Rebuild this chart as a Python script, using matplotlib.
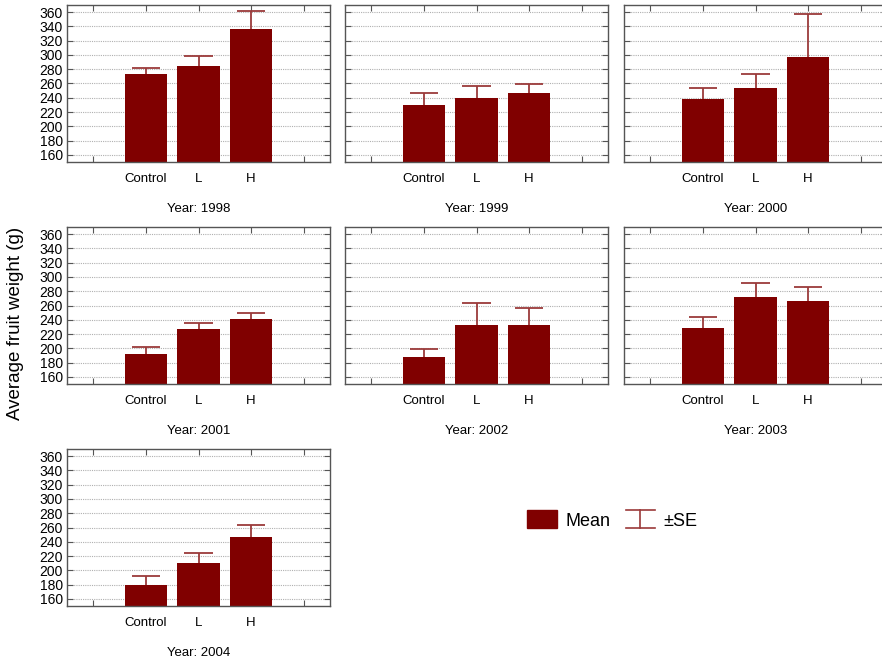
import matplotlib
matplotlib.use("Agg")
from matplotlib import pyplot as plt
from matplotlib.patches import Patch
from matplotlib.lines import Line2D
from matplotlib.legend_handler import HandlerBase

plt.rcParams["font.family"] = ["Liberation Sans", "DejaVu Sans"]

years = [1998, 1999, 2000, 2001, 2002, 2003, 2004]
groups = ["Control", "L", "H"]
mean_control = [273, 230, 238, 192, 188, 228, 179]
mean_l = [285, 239, 254, 226.5, 233, 272, 210.5]
mean_h = [337, 247, 297, 241, 232, 267, 246]
se_control = [8.5, 17, 15, 10, 11, 16, 13]
se_l = [14, 17, 20, 9.5, 30, 19, 13.5]
se_h = [24, 12, 60, 8, 24, 19, 18]

bar_color = "#800000"
err_color = "#9b3a3a"

W, H = 882, 660
fig = plt.figure(figsize=(W / 100, H / 100), dpi=100)

# panel positions in pixels (left, top)
col_left = [67, 345, 624]
row_top = [5, 227, 449]
pw, ph = 263, 157


def px_axes(left, top):
    return fig.add_axes([left / W, 1 - (top + ph) / H, pw / W, ph / H])


for i, year in enumerate(years):
    r, c = divmod(i, 3)
    ax = px_axes(col_left[c], row_top[r])
    means = [mean_control[i], mean_l[i], mean_h[i]]
    ses = [se_control[i], se_l[i], se_h[i]]
    xs = [2, 3, 4]
    tops = [m + s for m, s in zip(means, ses)]
    ax.bar(xs, means, width=0.8, color=bar_color, zorder=2)
    # upper half of the SE whisker only
    ax.vlines(xs, means, tops, color=err_color, linewidth=1.3, zorder=3)
    ax.hlines(tops, [x - 0.27 for x in xs], [x + 0.27 for x in xs],
              color=err_color, linewidth=1.3, zorder=3)
    ax.set_xlim(0.5, 5.5)
    ax.set_ylim(150, 370)
    ax.set_yticks(range(160, 361, 20))
    ax.set_xticks([1, 2, 3, 4, 5])
    ax.set_xticklabels([""] + groups + [""])
    ax.grid(axis="y", linestyle=(0, (1, 1)), color="#b0b0b0", linewidth=0.8, zorder=0)
    ax.tick_params(direction="in", length=4, top=True, right=True, labelsize=10,
                   color="#555555", pad=3)
    ax.tick_params(axis="x", labelsize=9.5, pad=8)
    if c != 0:
        ax.set_yticklabels([])
    for s in ax.spines.values():
        s.set_color("#555555")
        s.set_linewidth(1.0)
    ax.set_xlabel(f"Year: {year}", fontsize=9.5, labelpad=13)

fig.text(16 / W, 1 - 323 / H, "Average fruit weight (g)", rotation=90,
         ha="center", va="center", fontsize=13.5)


class HandlerSE(HandlerBase):
    def create_artists(self, legend, orig_handle, xdescent, ydescent,
                       width, height, fontsize, trans):
        x0, x1 = -xdescent, -xdescent + width
        xm = (x0 + x1) / 2
        y0, y1 = -ydescent, -ydescent + height
        kw = dict(color=err_color, linewidth=1.2, transform=trans)
        return [Line2D([x0, x1], [y1, y1], **kw),
                Line2D([xm, xm], [y0, y1], **kw),
                Line2D([x0, x1], [y0, y0], **kw)]


se_handle = Line2D([], [])
fig.legend([Patch(color=bar_color), se_handle], ["Mean", "\u00b1SE"],
           handler_map={se_handle: HandlerSE()},
           loc="center left", bbox_to_anchor=(511 / W, 1 - 520 / H),
           ncol=2, frameon=False, fontsize=13, handlelength=1.65, handleheight=1.15,
           handletextpad=0.45, columnspacing=0.85)

fig.savefig("out.png", dpi=100)
